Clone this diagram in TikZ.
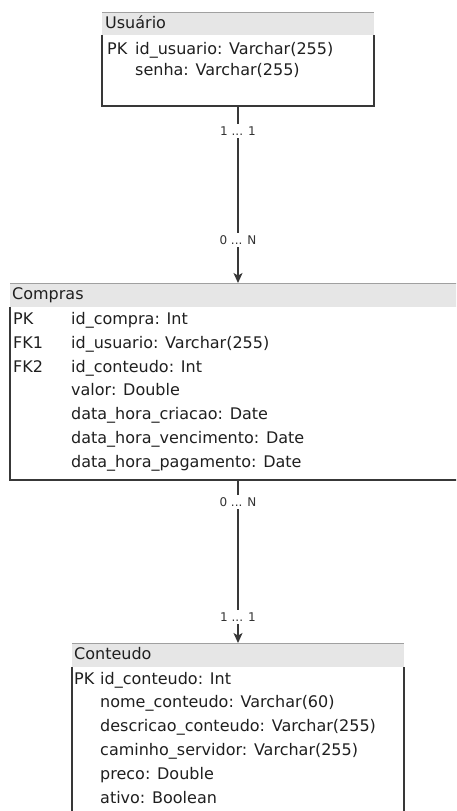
\documentclass[tikz,border=0pt]{standalone}
\usepackage{fontspec}
\setmainfont{DejaVu Sans}
\usetikzlibrary{arrows.meta, positioning}
\definecolor{hdrfill}{HTML}{E6E6E6}
\definecolor{hdrline}{HTML}{A0A0A0}
\definecolor{boxline}{HTML}{383838}
\tikzset{
	cabecalho/.style={fill=hdrfill, inner sep=0pt, outer sep=0pt},
	corpo/.style={inner sep=0pt, outer sep=0pt},
	borda/.style={draw=boxline, line width=1.3pt},
	topo/.style={draw=hdrline, line width=1pt},
	campo/.style={anchor=west, inner sep=0pt, text height=11.7pt, text depth=3pt, font=\fontsize{16}{18}\selectfont, text=black!88},
	card/.style={fill=white, inner sep=2.5pt, font=\fontsize{12}{14}\selectfont, text=black!80},
	rel/.style={draw=boxline, line width=1.3pt, -{Stealth[length=10pt,width=9pt,inset=2.5pt]}}
}
\begin{document}
\begin{tikzpicture}[x=1pt, y=-1pt]
	\useasboundingbox (0,0) rectangle (456,811);
	\clip (0,0) rectangle (456,811);

	\node[cabecalho, minimum width=272pt, minimum height=23pt] (usuarioh) at (238,23.5) {};
	\node[corpo, minimum width=272pt, minimum height=71pt, below=0pt of usuarioh] (usuario) {};
	\draw[topo] (usuarioh.north west) -- (usuarioh.north east);
	\draw[borda] (usuario.north west) -- (usuario.south west) -- (usuario.south east) -- (usuario.north east);
	\node[campo] (tusuario) at (105,24) {Usuário};
	\node[campo] (u1k) at (107,50) {PK};
	\node[campo] (u1) at (135,50) {id\_usuario: Varchar(255)};
	\node[campo] (u2) at (135,71.5) {senha: Varchar(255)};

	\node[cabecalho, minimum width=456pt, minimum height=24pt] (comprash) at (238,295) {};
	\node[corpo, minimum width=456pt, minimum height=173pt, below=0pt of comprash] (compras) {};
	\draw[topo] (comprash.north west) -- (comprash.north east);
	\draw[borda] (compras.north west) -- (compras.south west) -- (compras.south east) -- (compras.north east);
	\node[campo] (tcompras) at (12,295) {Compras};
	\node[campo] (c1k) at (13,320) {PK};
	\node[campo] (c1) at (71,320) {id\_compra: Int};
	\node[campo] (c2k) at (13,344) {FK1};
	\node[campo] (c2) at (71,344) {id\_usuario: Varchar(255)};
	\node[campo] (c3k) at (13,368) {FK2};
	\node[campo] (c3) at (71,368) {id\_conteudo: Int};
	\node[campo] (c4) at (71,391.5) {valor: Double};
	\node[campo] (c5) at (71,415.5) {data\_hora\_criacao: Date};
	\node[campo] (c6) at (71,439.5) {data\_hora\_vencimento: Date};
	\node[campo] (c7) at (71,463) {data\_hora\_pagamento: Date};

	\node[cabecalho, minimum width=332pt, minimum height=24pt] (conteudoh) at (238,655) {};
	\node[corpo, minimum width=332pt, minimum height=170pt, below=0pt of conteudoh] (conteudo) {};
	\draw[topo] (conteudoh.north west) -- (conteudoh.north east);
	\draw[borda] (conteudo.north west) -- (conteudo.south west) -- (conteudo.south east) -- (conteudo.north east);
	\node[campo] (tconteudo) at (74,655) {Conteudo};
	\node[campo] (t1k) at (74,680) {PK};
	\node[campo] (t1) at (100,680) {id\_conteudo: Int};
	\node[campo] (t2) at (100,703.5) {nome\_conteudo: Varchar(60)};
	\node[campo] (t3) at (100,727.5) {descricao\_conteudo: Varchar(255)};
	\node[campo] (t4) at (100,751.5) {caminho\_servidor: Varchar(255)};
	\node[campo] (t5) at (100,775.5) {preco: Double};
	\node[campo] (t6) at (100,799) {ativo: Boolean};

	\draw[rel] (usuario.south) -- node[card, pos=0.141] (ua) {1 ... 1} node[card, pos=0.757] (cb) {0 ... N} (comprash.north);
	\draw[rel] (compras.south) -- node[card, pos=0.135] (ca) {0 ... N} node[card, pos=0.84] (tb) {1 ... 1} (conteudoh.north);
\end{tikzpicture}
\end{document}
